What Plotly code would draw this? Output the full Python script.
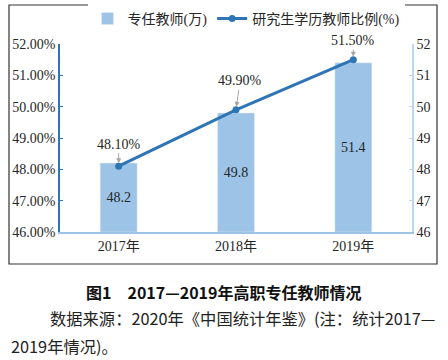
import plotly.graph_objects as go

years = ["2017年", "2018年", "2019年"]
teachers = [48.2, 49.8, 51.4]          # 专任教师(万)
grad_ratio = [48.10, 49.90, 51.50]     # 研究生学历教师比例(%)
ratio_labels = ["48.10%", "49.90%", "51.50%"]
axis_min, axis_max = 46, 52

W, H = 448, 360
L, R, T, B = 60, 412, 44, 232   # plot area in px


def px(x):
    return (x - L) / (R - L)


def py(y):
    return (B - y) / (B - T)


SERIF = "Liberation Serif, Noto Sans CJK SC, serif"
BAR_C = "#9DC3E6"
LINE_C = "#2E75B6"

fig = go.Figure()
fig.add_trace(go.Bar(
    x=years, y=[v - axis_min for v in teachers], base=axis_min,
    name="专任教师(万)", marker_color=BAR_C,
    text=[str(v) for v in teachers], textposition="inside",
    insidetextanchor="middle",
    textfont=dict(family=SERIF, size=14, color="#262626"),
    hovertext=[str(v) for v in teachers], hoverinfo="x+text",
    yaxis="y",
))
fig.add_trace(go.Scatter(
    x=years, y=grad_ratio, name="研究生学历教师比例(%)", mode="lines+markers",
    line=dict(color=LINE_C, width=3), marker=dict(color=LINE_C, size=7),
    yaxis="y2",
))

offsets = [(0, -22), (4, -29), (0, -19)]
for xv, yv, lab, (ax, ay) in zip(years, grad_ratio, ratio_labels, offsets):
    fig.add_annotation(
        x=xv, y=yv, xref="x", yref="y2", text=lab, showarrow=True,
        ax=ax, ay=ay, arrowhead=2, arrowsize=1, arrowwidth=1,
        arrowcolor="#A6A6A6", standoff=3,
        font=dict(family=SERIF, size=14, color="#262626"),
    )

# caption
fig.add_annotation(
    x=px(224), y=py(292), xref="paper", yref="paper", showarrow=False,
    text="<b>图1　2017—2019年高职专任教师情况</b>",
    font=dict(family="Noto Sans CJK SC", size=16, color="#111"),
    xanchor="center", yanchor="middle",
)
fig.add_annotation(
    x=px(48), y=py(318), xref="paper", yref="paper", showarrow=False,
    text="数据来源：2020年《中国统计年鉴》(注：统计2017—",
    font=dict(family="Noto Sans CJK SC", size=16.3, color="#222"),
    xanchor="left", yanchor="middle",
)
fig.add_annotation(
    x=px(9), y=py(346), xref="paper", yref="paper", showarrow=False,
    text="2019年情况)。",
    font=dict(family="Noto Sans CJK SC", size=16.3, color="#222"),
    xanchor="left", yanchor="middle",
)

# border
fig.add_shape(
    type="rect", xref="paper", yref="paper",
    x0=px(9), x1=px(437), y0=py(264), y1=py(5),
    line=dict(color="#333", width=1.2), fillcolor="rgba(0,0,0,0)",
)

fig.update_layout(
    width=W, height=H,
    margin=dict(l=L, r=W - R, t=T, b=H - B, pad=0, autoexpand=False),
    paper_bgcolor="white", plot_bgcolor="white",
    bargap=0.685,
    showlegend=True,
    legend=dict(
        orientation="h", xref="container", yref="container",
        x=246 / W, y=1 - 19 / H, xanchor="center", yanchor="middle",
        font=dict(family=SERIF, size=14, color="#262626"),
        traceorder="normal", tracegroupgap=0,
    ),
    xaxis=dict(
        showline=True, linecolor="#9DC3E6", linewidth=1.5, ticks="",
        tickfont=dict(family=SERIF, size=14, color="#262626"),
        showgrid=False, automargin=False,
    ),
    yaxis=dict(
        side="right", range=[axis_min, axis_max], dtick=1, showgrid=False,
        zeroline=False, automargin=False,
        showline=True, linecolor="#BDD7EE", linewidth=1.5,
        ticks="inside", ticklen=3, tickcolor="#BDD7EE",
        tickfont=dict(family=SERIF, size=14, color="#262626"),
    ),
    yaxis2=dict(
        overlaying="y", side="left", range=[axis_min, axis_max], dtick=1,
        tickformat=".2f", ticksuffix="%", showgrid=False, zeroline=False,
        automargin=False,
        showline=True, linecolor=LINE_C, linewidth=1.5,
        ticks="inside", ticklen=3, tickcolor=LINE_C,
        tickfont=dict(family=SERIF, size=14, color="#262626"),
    ),
)

fig.write_html(
    "out.html",
    config={"displayModeBar": False},
    post_script="document.body.style.margin='0';document.body.style.overflow='hidden';",
)
